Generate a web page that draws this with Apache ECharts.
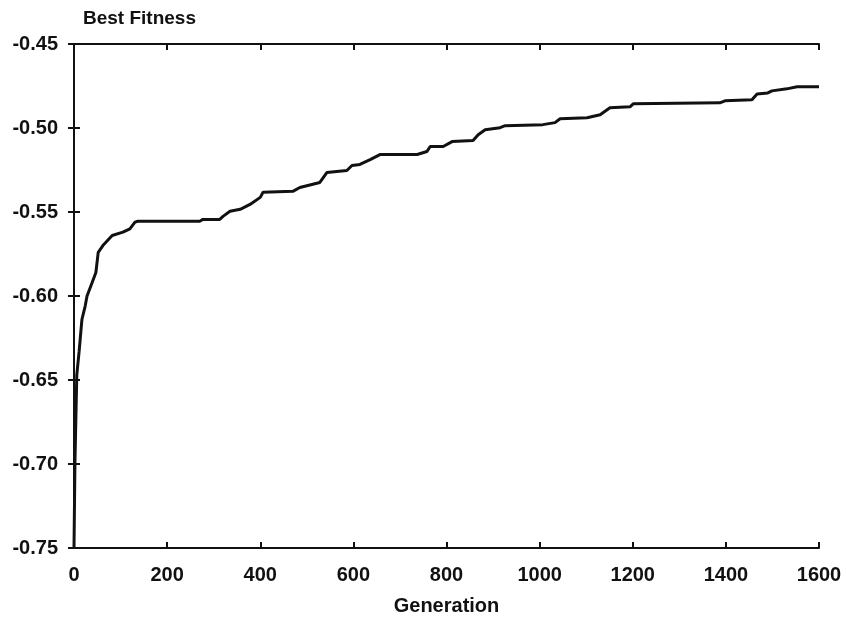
<!DOCTYPE html>
<html>
<head>
<meta charset="utf-8">
<script src="https://cdn.jsdelivr.net/npm/echarts@6/dist/echarts.min.js"></script>
<style>
  html, body { margin: 0; padding: 0; background: #fff; }
  #chart { width: 846px; height: 621px; }
</style>
</head>
<body>
<div id="chart"></div>
<script>
// best fitness per generation
const generation = [0, 2, 4, 6, 11, 17, 24, 28, 39, 47, 52, 62, 82, 105, 120, 131,
  137, 270, 277, 313, 320, 335, 357, 378, 400, 406, 470, 485, 528, 543, 586, 597,
  614, 636, 657, 737, 758, 765, 793, 812, 857, 868, 883, 915, 926, 1007, 1033, 1044,
  1102, 1130, 1151, 1194, 1201, 1387, 1398, 1456, 1467, 1490, 1499, 1531, 1553, 1600]
const bestFitness = [-0.75, -0.70, -0.673, -0.647, -0.633, -0.614, -0.606, -0.600, -0.592, -0.586, -0.574, -0.570, -0.564, -0.562, -0.560, -0.556,
  -0.5555, -0.5555, -0.5544, -0.5544, -0.5526, -0.5496, -0.5484, -0.5455, -0.5413, -0.5383, -0.5377, -0.5354, -0.5324, -0.5265, -0.5253, -0.5223,
  -0.5217, -0.5188, -0.5158, -0.5158, -0.514, -0.511, -0.511, -0.5081, -0.5075, -0.504, -0.501, -0.4998, -0.4986, -0.498, -0.4968, -0.4945,
  -0.4939, -0.4921, -0.488, -0.4874, -0.4856, -0.485, -0.4838, -0.4832, -0.4797, -0.4791, -0.4779, -0.4767, -0.4755, -0.4755]
const xTicks = { min: 0, max: 1600, interval: 200 }
const yTicks = { min: -0.75, max: -0.45, interval: 0.05 }

const font = 'Liberation Sans, Arial, sans-serif'
const ink = '#111'

const chart = echarts.init(document.getElementById('chart'))

const frameLine = { show: true, lineStyle: { color: ink, width: 2 } }
const innerTick = { show: true, inside: true, length: 6, lineStyle: { color: ink, width: 2 } }

chart.setOption({
  animation: false,
  grid: { left: 74, right: 27, top: 44, bottom: 71 },
  xAxis: [
    {
      type: 'value',
      min: xTicks.min,
      max: xTicks.max,
      interval: xTicks.interval,
      name: 'Generation',
      nameLocation: 'middle',
      nameGap: 48,
      nameTextStyle: { fontFamily: font, fontSize: 20, fontWeight: 'bold', color: ink },
      axisLine: frameLine,
      axisTick: innerTick,
      axisLabel: { fontFamily: font, fontSize: 20, fontWeight: 'bold', color: ink, margin: 17, formatter: v => String(v) },
      splitLine: { show: false }
    },
    {
      type: 'value',
      position: 'top',
      min: xTicks.min,
      max: xTicks.max,
      interval: xTicks.interval,
      axisLine: frameLine,
      axisTick: innerTick,
      axisLabel: { show: false },
      splitLine: { show: false }
    }
  ],
  yAxis: [
    {
      type: 'value',
      min: yTicks.min,
      max: yTicks.max,
      interval: yTicks.interval,
      name: 'Best Fitness',
      nameLocation: 'end',
      nameGap: 25,
      nameTextStyle: { fontFamily: font, fontSize: 19, fontWeight: 'bold', color: ink, align: 'left', verticalAlign: 'middle', padding: [0, 0, 0, 9] },
      axisLine: frameLine,
      axisTick: innerTick,
      axisLabel: {
        fontFamily: font, fontSize: 20, fontWeight: 'bold', color: ink, margin: 16,
        formatter: v => v.toFixed(2)
      },
      splitLine: { show: false }
    },
    {
      type: 'value',
      position: 'right',
      min: yTicks.min,
      max: yTicks.max,
      interval: yTicks.interval,
      axisLine: frameLine,
      axisTick: innerTick,
      axisLabel: { show: false },
      splitLine: { show: false }
    }
  ],
  series: [
    {
      type: 'line',
      data: generation.map((g, i) => [g, bestFitness[i]]),
      showSymbol: false,
      lineStyle: { color: ink, width: 3 }
    }
  ]
})
</script>
</body>
</html>
